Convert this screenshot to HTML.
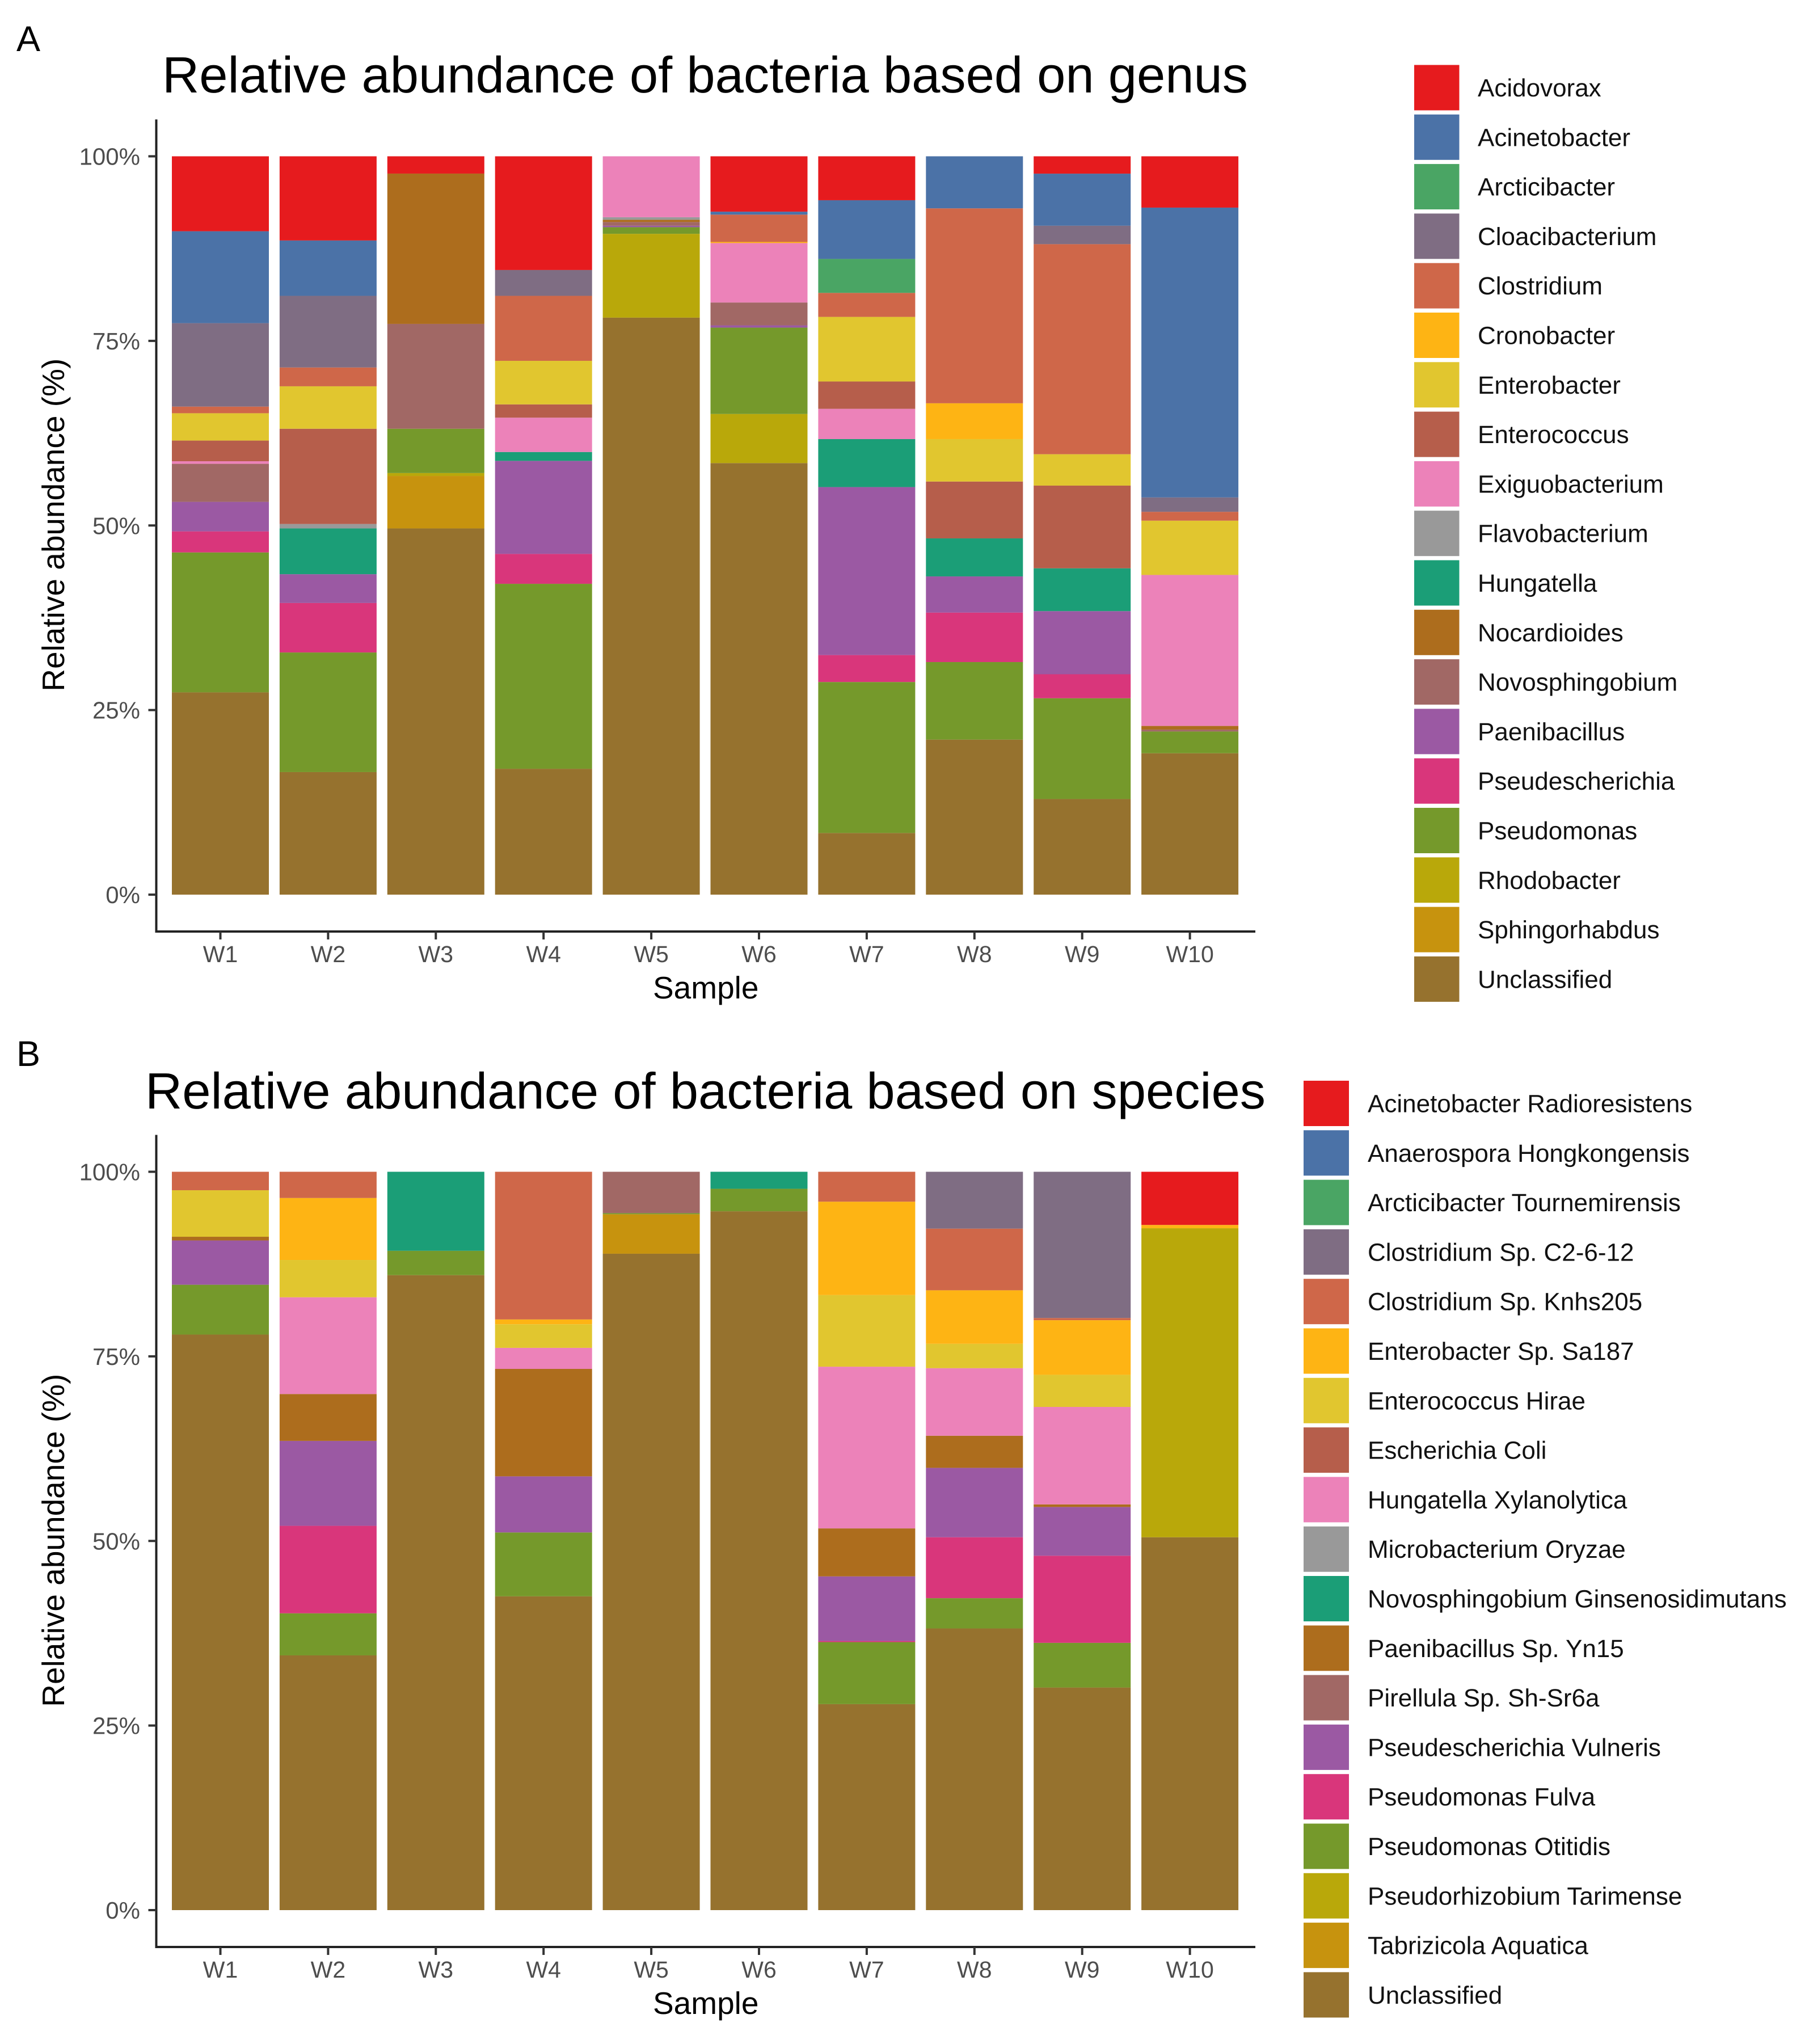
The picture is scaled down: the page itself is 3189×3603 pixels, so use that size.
<!DOCTYPE html>
<html lang="en">
<head>
<meta charset="utf-8">
<title>Relative abundance of bacteria</title>
<style>
  html, body { margin: 0; padding: 0; background: #fff; }
  body { width: 3189px; height: 3603px; overflow: hidden; }
  svg { display: block; font-family: "Liberation Sans", Arial, sans-serif; text-rendering: geometricPrecision; }
</style>
</head>
<body>
<svg id="figure" xmlns="http://www.w3.org/2000/svg" width="3189" height="3603" viewBox="0 0 3189 3603">
  <rect x="0" y="0" width="3189" height="3603" fill="#ffffff"/>
  <text x="29" y="90" font-size="63" fill="#000">A</text>
  <text x="29" y="1879" font-size="63" fill="#000">B</text>
  <text x="286" y="163" font-size="90" fill="#000" textLength="1914" lengthAdjust="spacingAndGlyphs">Relative abundance of bacteria based on genus</text>
  <text x="256" y="1954" font-size="90" fill="#000" textLength="1975" lengthAdjust="spacingAndGlyphs">Relative abundance of bacteria based on species</text>
  <g id="panel-a"></g>
  <g id="panel-b"></g>
</svg>
<script>
const samples = ['W1','W2','W3','W4','W5','W6','W7','W8','W9','W10'];
const yTickValues = [0, 25, 50, 75, 100];
const palette = ['#E61B1E','#4B72A7','#4AA564','#7F6D83','#CF6749','#FEB414','#E1C62F','#B65E4B','#EC82B9','#999999','#1B9E77','#AD6D1D','#A16865','#9B59A3','#D9367B','#75992B','#B9A80A','#C7930E','#96722E'];

// Panel A: genus, percent per sample W1..W10
const genusNames = ['Acidovorax','Acinetobacter','Arcticibacter','Cloacibacterium','Clostridium','Cronobacter','Enterobacter','Enterococcus','Exiguobacterium','Flavobacterium','Hungatella','Nocardioides','Novosphingobium','Paenibacillus','Pseudescherichia','Pseudomonas','Rhodobacter','Sphingorhabdus','Unclassified'];
const acidovorax = [10.15,11.4,2.34,15.4,0,7.5,5.95,0,2.35,6.95];
const acinetobacter = [12.45,7.5,0,0,0,0.4,7.95,7.05,7.05,39.25];
const arcticibacter = [0,0,0,0,0,0,4.6,0,0,0];
const cloacibacterium = [11.3,9.7,0,3.5,0,0,0,0,2.5,1.95];
const clostridium = [0.9,2.55,0,8.8,0,3.7,3.25,26.4,28.45,1.2];
const cronobacter = [0,0,0,0,0,0.15,0,4.85,0,0];
const enterobacter = [3.7,5.75,0,5.9,0,0,8.75,5.75,4.25,7.35];
const enterococcus = [2.8,12.9,0,1.8,0,0,3.7,7.7,11.2,0];
const exiguobacterium = [0.35,0,0,4.65,8.25,8.05,4.1,0,0,20.45];
const flavobacterium = [0,0.6,0,0,0.35,0,0,0,0,0];
const hungatella = [0,6.2,0,1.2,0,0,6.5,5.15,5.8,0];
const nocardioides = [0,0,20.36,0,0.3,0,0,0,0,0.5];
const novosphingobium = [5.15,0,14.2,0,0.5,3.1,0,0,0,0.25];
const paenibacillus = [4,3.9,0,12.6,0.2,0.3,22.75,4.9,8.55,0];
const pseudescherichia = [2.85,6.7,0,4.05,0,0,3.65,6.7,3.25,0];
const pseudomonas = [18.95,16.2,6,25.05,0.9,11.7,20.45,10.5,13.65,2.95];
const rhodobacter = [0,0,0.4,0,11.35,6.65,0,0,0,0];
const sphingorhabdus = [0,0,7.1,0,0,0,0,0,0,0];
const unclassifiedGenus = [27.4,16.6,49.6,17.05,78.15,58.45,8.35,21,12.95,19.15];
const genusSeries = [acidovorax,acinetobacter,arcticibacter,cloacibacterium,clostridium,cronobacter,enterobacter,enterococcus,exiguobacterium,flavobacterium,hungatella,nocardioides,novosphingobium,paenibacillus,pseudescherichia,pseudomonas,rhodobacter,sphingorhabdus,unclassifiedGenus];

// Panel B: species, percent per sample W1..W10
const speciesNames = ['Acinetobacter Radioresistens','Anaerospora Hongkongensis','Arcticibacter Tournemirensis','Clostridium Sp. C2-6-12','Clostridium Sp. Knhs205','Enterobacter Sp. Sa187','Enterococcus Hirae','Escherichia Coli','Hungatella Xylanolytica','Microbacterium Oryzae','Novosphingobium Ginsenosidimutans','Paenibacillus Sp. Yn15','Pirellula Sp. Sh-Sr6a','Pseudescherichia Vulneris','Pseudomonas Fulva','Pseudomonas Otitidis','Pseudorhizobium Tarimense','Tabrizicola Aquatica','Unclassified'];
const radioresistens = [0,0,0,0,0,0,0,0,0,7.2];
const hongkongensis = [0,0,0,0,0,0,0,0,0,0];
const tournemirensis = [0,0,0,0,0,0,0,0,0,0];
const c2612 = [0,0,0,0,0,0,0,7.7,19.8,0];
const knhs205 = [2.5,3.55,0,20,0,0,4.05,8.35,0.3,0];
const sa187 = [0,8.4,0,0.65,0,0,12.65,7.25,7.4,0.45];
const hirae = [6.3,5.05,0,3.2,0,0,9.7,3.3,4.35,0];
const coli = [0,0,0,0,0,0,0,0,0,0];
const xylanolytica = [0,13.1,0,2.85,0,0,21.9,9.15,13.2,0];
const oryzae = [0,0,0,0,0,0,0,0,0,0];
const ginsenosidimutans = [0,0,10.7,0,0,2.3,0,0,0,0];
const yn15 = [0.5,6.35,0,14.55,0,0,6.5,4.35,0.35,0];
const shSr6a = [0,0,0,0,5.6,0,0,0,0,0];
const vulneris = [6,11.5,0,7.6,0,0,8.75,9.4,6.6,0];
const fulva = [0,11.85,0,0,0,0,0.15,8.25,11.8,0];
const otitidis = [6.75,5.7,3.3,8.65,0.15,3.05,8.4,4.1,6.05,0];
const tarimense = [0,0,0,0,0,0,0,0,0,41.85];
const aquatica = [0,0,0,0,5.35,0,0,0,0,0];
const unclassifiedSpecies = [77.95,34.5,86,42.5,88.9,94.65,27.9,38.15,30.15,50.5];
const speciesSeries = [radioresistens,hongkongensis,tournemirensis,c2612,knhs205,sa187,hirae,coli,xylanolytica,oryzae,ginsenosidimutans,yn15,shSr6a,vulneris,fulva,otitidis,tarimense,aquatica,unclassifiedSpecies];

const SVG_NS = 'http://www.w3.org/2000/svg';

function make(parent, tag, attrs, text) {
  const el = document.createElementNS(SVG_NS, tag);
  for (const k in attrs) el.setAttribute(k, attrs[k]);
  if (text !== undefined) el.textContent = text;
  parent.appendChild(el);
  return el;
}

function drawPanel(rootId, prefix, names, series, layout) {
  const root = document.getElementById(rootId);
  const plotHeight = 1301.5;
  const yScale = v => layout.zeroY - v / 100 * plotHeight;
  const xCenter = i => 388.5 + 189.9 * i;
  const barWidth = 171;
  const axisLeft = 275.5;
  const axisRight = 2213;
  const axisBottom = yScale(0) + 65;
  const axisTop = yScale(100) - 65;

  // stacked bars, first legend entry on top, last at the baseline
  samples.forEach((sample, i) => {
    let base = 0;
    for (let s = series.length - 1; s >= 0; s--) {
      const v = series[s][i];
      if (!v) continue;
      const rect = make(root, 'rect', {
        x: xCenter(i) - barWidth / 2,
        y: yScale(base + v),
        width: barWidth,
        height: yScale(base) - yScale(base + v),
        fill: palette[s]
      });
      
      
      base += v;
    }
  });

  // y axis
  const yAxis = make(root, 'line', { x1: axisLeft, x2: axisLeft, y1: axisTop, y2: axisBottom + 2, stroke: '#222', 'stroke-width': 4 });
  
  
  yTickValues.forEach(v => {
    const tick = make(root, 'line', { x1: axisLeft - 14, x2: axisLeft, y1: yScale(v), y2: yScale(v), stroke: '#333', 'stroke-width': 4 });
    
    
    const label = make(root, 'text', { x: 247, y: yScale(v) + 15, 'text-anchor': 'end', 'font-size': 42, fill: '#4D4D4D' }, v + '%');
    
    
  });

  // x axis
  const xAxis = make(root, 'line', { x1: axisLeft - 2, x2: axisRight, y1: axisBottom, y2: axisBottom, stroke: '#222', 'stroke-width': 4 });
  
  
  samples.forEach((sample, i) => {
    const tick = make(root, 'line', { x1: xCenter(i), x2: xCenter(i), y1: axisBottom, y2: axisBottom + 14, stroke: '#333', 'stroke-width': 4 });
    
    
    const label = make(root, 'text', { x: xCenter(i), y: axisBottom + 54, 'text-anchor': 'middle', 'font-size': 41, fill: '#4D4D4D' }, sample);
    
    
  });

  // axis titles
  const xTitle = make(root, 'text', { x: 1151, y: axisBottom + 118, 'font-size': 55, fill: '#000' }, 'Sample');
  
  
  const midY = (yScale(0) + yScale(100)) / 2 - 1;
  const yTitle = make(root, 'text', { x: 0, y: 0, 'text-anchor': 'middle', 'font-size': 55, fill: '#000', transform: 'translate(113,' + midY + ') rotate(-90)' }, 'Relative abundance (%)');
  
  

  // legend
  names.forEach((name, s) => {
    const top = layout.legendTop + 87.3 * s;
    const swatch = make(root, 'rect', { x: layout.swatchX, y: top, width: layout.swatchW, height: 80, fill: palette[s] });
    
    
    const label = make(root, 'text', { x: layout.textX, y: top + 55.5, 'font-size': 44, fill: '#111' }, name);
    
    
  });
}

drawPanel('panel-a', 'genus', genusNames, genusSeries, { zeroY: 1577, legendTop: 114.5, swatchX: 2493, swatchW: 79.5, textX: 2605 });
drawPanel('panel-b', 'species', speciesNames, speciesSeries, { zeroY: 3367, legendTop: 1905, swatchX: 2298, swatchW: 80, textX: 2411 });
</script>
</body>
</html>
